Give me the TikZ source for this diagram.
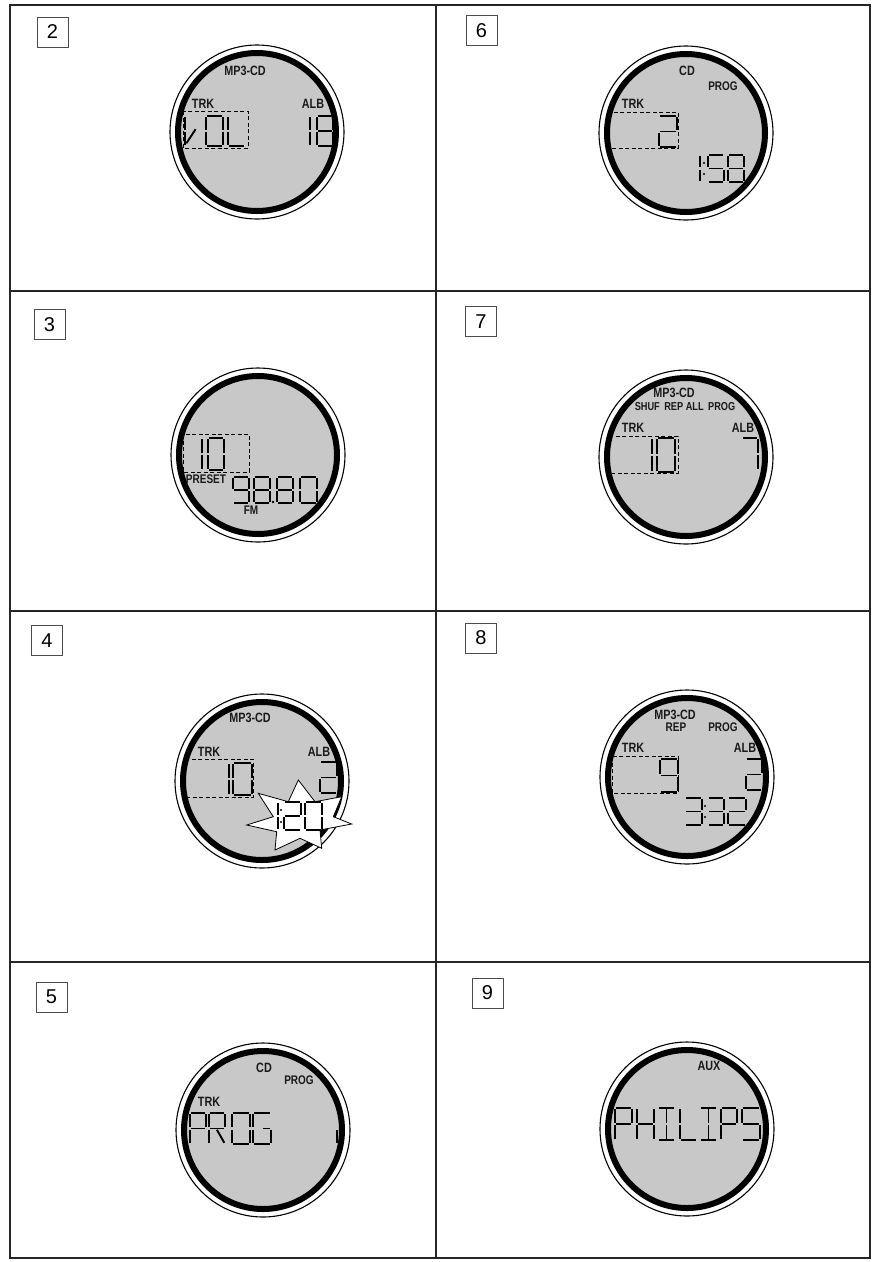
\documentclass[tikz,border=0pt]{standalone}
\usepackage{fontspec}
\newfontfamily\labfont[FakeStretch=0.8]{Liberation Sans Bold}
\newfontfamily\numfont{Liberation Sans}
\definecolor{lcdgrey}{RGB}{200,200,200}
\tikzset{
  frame/.style={line width=1.8pt, draw=black!85},
  numbox/.style={draw=black!70, line width=0.7pt, minimum width=31pt, minimum height=30pt, inner sep=0pt, font=\numfont\fontsize{20}{20}\selectfont},
  lab/.style={inner sep=0pt, font=\labfont\fontsize{13.5}{13.5}\selectfont, text=black!90},
  labs/.style={lab, font=\labfont\fontsize{12.5}{12.5}\selectfont},
  labxs/.style={lab, font=\labfont\fontsize{11.5}{11.5}\selectfont},
  segline/.style={line width=1.9pt, draw=black, shorten <=1.4pt, shorten >=1.4pt},
  dashbox/.style={draw=black, line width=1pt, dash pattern=on 4pt off 2.5pt},
  ring/.style={draw=black, line width=6pt},
  rim/.style={draw=black, line width=1.1pt},
  starburst/.style={draw=black, fill=white, line width=0.8pt, line join=miter}
}
\newcommand\lcdsega{\draw[segline] (0,0)--(1,0);}
\newcommand\lcdsegb{\draw[segline] (1,0)--(1,.5);}
\newcommand\lcdsegc{\draw[segline] (1,.5)--(1,1);}
\newcommand\lcdsegd{\draw[segline] (0,1)--(1,1);}
\newcommand\lcdsege{\draw[segline] (0,.5)--(0,1);}
\newcommand\lcdsegf{\draw[segline] (0,0)--(0,.5);}
\newcommand\lcdsegg{\draw[segline] (0,.5)--(1,.5);}
\newcommand\lcdsegh{\draw[segline] (.5,0)--(.5,.5);}
\newcommand\lcdsegi{\draw[segline] (.5,.5)--(.5,1);}
\newcommand\lcdsegk{\draw[segline] (.45,.5)--(1,1);}
\newcommand\lcdsegv{\draw[segline] (0.05,.95)--(.95,.4);}
\newcommand\lcdsegq{\draw[segline] (.5,.5)--(1,.5);}
\newcommand\lcdch[5]{\begin{scope}[shift={(#1,#2)},xscale=#3,yscale=#4]\foreach \s in {#5}{\csname lcdseg\s\endcsname}\end{scope}}
\newcommand\lcdcolon[3]{\fill (#1,#2) circle (1.2); \fill (#1,#3) circle (1.2);}
\newcommand\dispbg[2]{\fill[lcdgrey] (#1,#2) circle (79);}
\newcommand\dispring[2]{\draw[ring] (#1,#2) circle (79); \draw[rim] (#1,#2) circle (87);}
\begin{document}
\begin{tikzpicture}[x=1pt,y=-1pt]
\useasboundingbox (0,0) rectangle (877,1262);
\fill[white] (0,0) rectangle (877,1262);
% frame
\draw[frame] (10,5) rectangle (870,1258);
\draw[frame] (436,5) -- (436,1258);
\draw[frame] (10,291) -- (870,291);
\draw[frame] (10,611) -- (870,611);
\draw[frame] (10,962) -- (870,962);
% number boxes
\node[numbox] (n2) at (52.5,32) {2};
\node[numbox] (n6) at (481.5,30.5) {6};
\node[numbox] (n3) at (49.5,324.5) {3};
\node[numbox] (n7) at (481,321.5) {7};
\node[numbox] (n4) at (47,640.5) {4};
\node[numbox] (n8) at (481,638) {8};
\node[numbox] (n5) at (51.5,997) {5};
\node[numbox] (n9) at (487.5,993) {9};

% ---------- panel 2 ----------
\dispbg{257}{132}
\begin{scope}
\clip (257,132) circle (79);
\node[lab] (p2mp) at (245,71) {MP3-CD};
\node[lab] (p2trk) at (203,104) {TRK};
\node[lab] (p2alb) at (313,104) {ALB};
\draw[dashbox] (183,111) rectangle (248,148);
\lcdch{185}{116}{12}{30}{f,e,v}
\lcdch{206}{116}{17}{30}{a,b,c,d,e,f}
\lcdch{228}{116}{17}{30}{f,e,d}
\lcdch{305}{116}{5}{30}{b,c}
\lcdch{317}{116}{16}{30}{a,b,c,d,e,f,g}
\end{scope}
\dispring{257}{132}

% ---------- panel 6 ----------
\dispbg{686}{133}
\begin{scope}
\clip (686,133) circle (79);
\node[lab] (p6cd) at (687,71) {CD};
\node[labs] (p6prog) at (723,86) {PROG};
\node[lab] (p6trk) at (633,104) {TRK};
\draw[dashbox] (609,112) rectangle (678,148);
\lcdch{659}{116}{18}{31}{a,b,g,e,d}
\lcdch{696}{155}{4}{27}{b,c}
\lcdcolon{704}{163}{174}
\lcdch{708}{155}{16}{27}{a,f,g,c,d}
\lcdch{728}{155}{16}{27}{a,b,c,d,e,f,g}
\end{scope}
\dispring{686}{133}

% ---------- panel 3 ----------
\dispbg{258}{455}
\begin{scope}
\clip (258,455) circle (79);
\draw[dashbox] (183,434) rectangle (249,472);
\lcdch{198}{438}{4}{32}{b,c}
\lcdch{208}{438}{16}{32}{a,b,c,d,e,f}
\node[labs] (p3preset) at (206,479) {PRESET};
\lcdch{233}{477}{16}{26}{a,b,c,d,f,g}
\lcdch{254}{477}{16}{26}{a,b,c,d,e,f,g}
\fill (273,502) circle (1.3);
\lcdch{277}{477}{16}{26}{a,b,c,d,e,f,g}
\lcdch{300}{477}{17}{26}{a,b,c,d,e,f}
\node[labs] (p3fm) at (251,510) {FM};
\end{scope}
\dispring{258}{455}

% ---------- panel 7 ----------
\dispbg{686}{457}
\begin{scope}
\clip (686,457) circle (79);
\node[lab] (p7mp) at (674,393) {MP3-CD};
\node[labxs] (p7modes) at (685,406.5) {SHUF\, REP ALL\, PROG};
\node[lab] (p7trk) at (633,428) {TRK};
\node[lab] (p7alb) at (743,428) {ALB};
\draw[dashbox] (609,436) rectangle (678,473);
\lcdch{648}{438}{4}{34}{b,c}
\lcdch{657}{438}{18}{34}{a,b,c,d,e,f}
\lcdch{742}{438}{16}{32}{a,b,c}
\end{scope}
\dispring{686}{457}

% ---------- panel 4 ----------
\dispbg{262}{781}
\begin{scope}
\clip (262,781) circle (79);
\node[lab] (p4mp) at (250,718) {MP3-CD};
\node[lab] (p4trk) at (209,752) {TRK};
\node[lab] (p4alb) at (319,752) {ALB};
\draw[dashbox] (185,759) rectangle (253,797);
\lcdch{225}{763}{4}{32}{b,c}
\lcdch{233}{763}{19}{32}{a,b,c,d,e,f}
\lcdch{320}{762}{17}{31}{a,b,g,e,d}
\end{scope}
\dispring{262}{781}
\draw[starburst] (298.3,780) -- (288.3,801.7) -- (258.3,793.3) -- (273.3,816.7)
  -- (246.7,825) -- (276.7,831.7) -- (275,850) -- (300,838.3) -- (321.7,848.3)
  -- (320,830) -- (351.7,824) -- (333.3,816.7) -- (341.7,796.7) -- (315,801.7) -- cycle;
\lcdch{274}{802}{4}{28}{b,c}
\lcdcolon{281}{810}{822}
\lcdch{284}{802}{17}{28}{a,b,g,e,d}
\lcdch{305}{802}{17}{28}{a,b,c,d,e,f}

% ---------- panel 8 ----------
\dispbg{687}{777}
\begin{scope}
\clip (687,777) circle (79);
\node[lab] (p8mp) at (675,715) {MP3-CD};
\node[labs] (p8rep) at (676,727.5) {REP};
\node[labs] (p8prog) at (723,727.5) {PROG};
\node[lab] (p8trk) at (633,748) {TRK};
\node[lab] (p8alb) at (745,748) {ALB};
\draw[dashbox] (612,756) rectangle (678,793);
\lcdch{660}{759}{18}{33}{a,b,c,d,f,g}
\lcdch{746}{759}{16}{31}{a,b,g,e,d}
\lcdch{685}{798}{17}{27}{a,b,g,c,d}
\lcdcolon{705}{806}{817}
\lcdch{708}{798}{16}{27}{a,b,g,c,d}
\lcdch{728}{798}{18}{27}{a,b,g,e,d}
\end{scope}
\dispring{687}{777}

% ---------- panel 5 ----------
\dispbg{263}{1130}
\begin{scope}
\clip (263,1130) circle (79);
\node[lab] (p5cd) at (264,1068) {CD};
\node[labs] (p5prog) at (299,1080) {PROG};
\node[lab] (p5trk) at (209,1102) {TRK};
\lcdch{190}{1113}{16}{31}{a,b,f,g,e}
\lcdch{209}{1113}{16}{31}{a,b,f,g,e,k}
\lcdch{232}{1113}{18}{31}{a,b,c,d,e,f}
\lcdch{253}{1113}{18}{31}{a,f,e,d,c,q}
\lcdch{333}{1113}{4}{31}{c}
\end{scope}
\dispring{263}{1130}

% ---------- panel 9 ----------
\dispbg{687}{1129}
\begin{scope}
\clip (687,1129) circle (79);
\node[lab] (p9aux) at (709,1066) {AUX};
\lcdch{615}{1108}{17}{32}{a,b,f,g,e}
\lcdch{637}{1108}{17}{32}{f,e,b,c,g}
\lcdch{658}{1108}{17}{32}{a,d,h,i}
\lcdch{680}{1108}{17}{32}{f,e,d}
\lcdch{700}{1108}{17}{32}{a,d,h,i}
\lcdch{721}{1108}{16}{32}{a,b,f,g,e}
\lcdch{742}{1108}{18}{32}{a,f,g,c,d}
\end{scope}
\dispring{687}{1129}
\end{tikzpicture}
\end{document}
